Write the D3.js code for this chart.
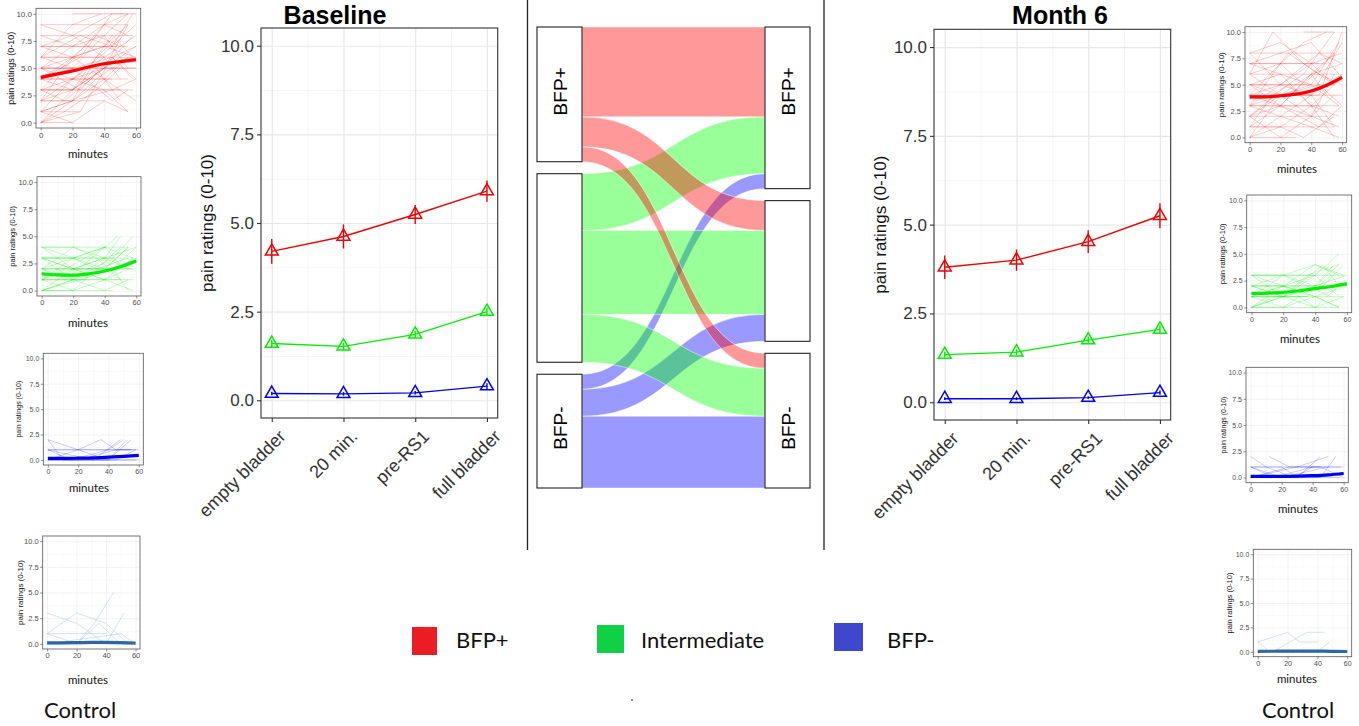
<!DOCTYPE html>
<html>
<head>
<meta charset="utf-8">
<script src="https://cdn.jsdelivr.net/npm/d3@7"></script>
<style>
body { margin: 0; background: #fff; }
svg { display: block; }
</style>
</head>
<body>
<div class="canvas"></div>
<script>
const svg = d3.select('.canvas')
            .append('svg')
            .attr('width', 1359)
            .attr('height', 726)

const arial = "'Liberation Sans', Arial, sans-serif"
const calibri = "Lato, 'Open Sans', sans-serif"

// categories and ticks
const timepoints = ['empty bladder', '20 min.', 'pre-RS1', 'full bladder']
const groups = ['BFP+', 'Intermediate', 'BFP-']
const yTicks = [0, 2.5, 5, 7.5, 10]
const yMinor = [1.25, 3.75, 6.25, 8.75]
const minuteTicks = [0, 20, 40, 60]
const minuteMinor = [10, 30, 50]
const smoothMinutes = [0, 10, 20, 30, 40, 50, 60]

// main panels: mean pain rating per time point (+/- error)
const baselineRed = [4.2, 4.62, 5.24, 5.9]
const baselineRedErr = [0.35, 0.34, 0.27, 0.3]
const baselineGreen = [1.6, 1.52, 1.86, 2.5]
const baselineGreenErr = [0.1, 0.1, 0.1, 0.12]
const baselineBlue = [0.19, 0.18, 0.21, 0.4]
const baselineBlueErr = [0.05, 0.05, 0.05, 0.08]

const month6Red = [3.8, 4.0, 4.52, 5.25]
const month6RedErr = [0.33, 0.3, 0.32, 0.35]
const month6Green = [1.34, 1.41, 1.75, 2.05]
const month6GreenErr = [0.08, 0.08, 0.1, 0.12]
const month6Blue = [0.1, 0.1, 0.13, 0.27]
const month6BlueErr = [0.04, 0.04, 0.04, 0.06]

// alluvial: group at baseline -> group at month 6
const flowFrom = ['BFP+', 'BFP+', 'BFP+', 'Intermediate', 'Intermediate', 'Intermediate', 'BFP-', 'BFP-', 'BFP-']
const flowTo = ['BFP+', 'Intermediate', 'BFP-', 'BFP+', 'Intermediate', 'BFP-', 'BFP+', 'Intermediate', 'BFP-']
const flowCount = [30, 10, 5, 19, 28, 16, 5, 9, 24]

// individual trajectories, flat [minute, rating, minute, rating, ...]
const trajBaseRed = [
  [0,9,55,9], [0,8,58,8], [0,7,55,7], [0,7,48,7], [0,6,58,6], [0,6,40,6], [0,5,60,5], [0,5,50,5],
  [0,4,55,4], [0,4,45,4], [0,3,58,3], [0,3,50,3], [0,2,40,2], [0,1,25,1], [0,0,20,0], [20,10,52,10],
  [0,0,20,3,40,5,60,7], [0,1,20,2,35,6,50,8], [0,2,15,5,40,9,55,10], [0,3,20,4,45,7,60,9],
  [0,4,25,6,45,10,60,10], [0,5,20,7,40,8,55,10], [0,6,20,9,38,10], [0,7,20,8,45,10],
  [0,2,20,2,40,4,55,6], [0,0,15,1,35,3,50,5], [0,1,20,4,40,5,58,8], [0,3,20,3,35,5,50,2],
  [0,5,20,4,40,3,55,1], [0,4,20,6,40,4,60,2], [0,6,20,5,45,6,58,4], [0,8,20,7,40,9,55,8],
  [0,5,25,3,45,6,60,7], [0,3,20,6,40,7,55,9], [0,2,20,3,45,8,58,6], [0,7,20,6,35,8,50,7],
  [0,4,20,5,45,2,55,3], [0,1,20,2,45,3,60,4], [0,0,20,2,35,4,55,6], [0,6,25,8,45,7,58,10],
  [0,3,15,2,40,5,60,5], [0,5,20,6,40,7,60,6], [0,2,20,4,40,6,50,4], [0,4,20,3,40,5,55,9],
  [0,9,20,8,40,6,60,8], [0,0,25,1,45,6,60,4], [0,1,20,0,40,2,55,1], [0,5,20,5,40,8,55,5]
]
const trajBaseGreen = [
  [0,4,40,4], [0,3,55,3], [0,3,45,3], [0,2,58,2], [0,2,40,2], [0,1,50,1], [0,1,30,1], [0,0,45,0],
  [0,4,20,3,40,2,55,4], [0,3,20,2,40,1,58,3], [0,2,20,1,40,3,50,5], [0,1,20,2,40,2,55,4],
  [0,0,20,1,45,3,58,5], [0,0,20,0,40,1,55,2], [0,2,20,3,35,2,50,4], [0,1,20,1,40,0,55,1],
  [0,3,20,3,40,4,55,4], [0,4,20,2,40,3,60,4], [0,2,15,1,40,4,48,5], [0,1,20,3,40,4,58,3],
  [0,0,20,2,40,3,55,0], [0,2,20,2,40,1,58,0], [0,3,20,1,45,2,60,3], [0,1,20,0,35,2,55,3],
  [0,0,25,1,45,2,60,4], [0,2,20,4,40,3,55,2], [0,4,20,4,35,3,50,1], [0,1,15,2,40,4,52,2],
  [0,3,20,2,40,2,60,2], [0,0,20,1,40,1,58,1]
]
const trajBaseBlue = [
  [0,2,20,1,35,2,45,1,58,1], [0,1,55,1], [0,1,20,1,40,1,50,2], [0,0,20,1,40,0,52,2],
  [0,0,40,0,55,2], [0,1,15,0,40,1,55,1], [0,0,20,0,45,1,60,1], [0,2,10,0,40,0,58,0],
  [0,0,60,0], [0,1,30,0,48,2], [0,0,20,0,45,0,58,1]
]
const trajBaseControl = [
  [0,3,20,2,40,0,55,0], [0,1,20,3,40,2,55,0], [0,1,40,1], [0,1,20,0,32,2,45,5],
  [0,0,20,0,35,2,50,0], [40,0,52,3], [0,0,50,1,60,0]
]
const trajM6Red = [
  [0,8,55,8], [0,7,50,7], [0,6,58,6], [0,5,55,5], [0,4,60,4], [0,3,58,3], [0,2,50,2], [0,1,55,1],
  [0,0,30,0], [35,10,55,10], [0,7,45,7], [0,5,40,5], [0,3,45,3],
  [0,0,20,2,40,4,60,9], [0,1,15,4,35,6,55,10], [0,2,20,3,40,6,55,8], [0,3,20,5,40,7,60,8],
  [0,4,20,7,35,9,50,10], [0,5,20,4,40,6,60,7], [0,6,15,10,35,7,55,5], [0,7,20,6,40,3,58,2],
  [0,8,20,5,40,4,55,1], [0,3,20,2,40,1,58,0], [0,2,20,4,45,5,60,3], [0,4,20,3,40,2,55,6],
  [0,5,20,6,40,5,58,9], [0,1,20,1,40,3,55,5], [0,0,20,1,35,0,55,2], [0,6,20,4,40,4,60,6],
  [0,3,25,8,45,6,60,5], [0,2,20,0,40,2,55,4], [0,4,20,5,45,8,60,7], [0,7,20,8,40,9,58,6],
  [0,1,20,3,40,6,50,4], [0,5,20,3,45,1,60,3], [0,0,20,4,40,2,58,1], [0,2,25,5,40,3,55,0],
  [0,6,20,7,35,5,55,8], [0,3,20,4,45,4,60,10], [0,4,20,4,40,5,58,3], [0,8,20,9,40,7,55,5]
]
const trajM6Green = [
  [0,3,58,3], [0,2,58,2], [0,1,58,1], [0,0,55,0], [0,3,40,3], [0,2,45,2], [0,1,35,1],
  [0,0,20,1,40,3,55,5], [0,1,20,2,40,4,58,3], [0,2,20,1,40,2,55,4], [0,3,20,2,40,1,55,0],
  [0,0,20,0,40,2,52,4], [0,1,20,0,40,1,60,2], [0,2,20,3,35,2,50,1], [0,0,20,2,40,3,55,1],
  [0,3,20,3,40,4,55,3], [0,1,20,1,45,2,58,4], [0,2,20,2,40,0,55,2], [0,0,15,1,35,1,50,3],
  [0,1,20,3,40,2,60,3], [0,0,20,1,40,0,58,1], [0,2,20,1,45,4,55,2], [0,3,20,1,35,3,55,4],
  [0,1,20,2,40,1,55,0]
]
const trajM6Blue = [
  [0,2,10,1,28,0,40,1], [12,2,25,1,45,1], [0,1,30,1,58,1], [0,1,20,1,30,0,45,2],
  [0,0,30,1,50,2], [0,0,20,0,45,0,55,2], [0,1,15,0,40,1,60,1], [0,0,40,0,58,0],
  [0,0,25,1,45,1,60,0], [0,1,20,0,50,1]
]
const trajM6Control = [
  [0,1,20,2,28,1,40,1], [0,1,8,0], [10,0,33,2,45,2], [40,0,48,1], [0,0,55,0]
]

// loess fits (rating at smoothMinutes) and half-width of the band
const smoothBaseRed = [4.15, 4.45, 4.75, 5.1, 5.4, 5.6, 5.78]
const bandBaseRed = [0.25, 0.18, 0.15, 0.15, 0.15, 0.18, 0.28]
const smoothBaseGreen = [1.55, 1.45, 1.42, 1.55, 1.8, 2.2, 2.72]
const bandBaseGreen = [0.15, 0.12, 0.1, 0.1, 0.12, 0.15, 0.22]
const smoothBaseBlue = [0.15, 0.15, 0.17, 0.2, 0.27, 0.35, 0.45]
const bandBaseBlue = [0.08, 0.06, 0.05, 0.05, 0.06, 0.08, 0.12]
const smoothBaseControl = [0.1, 0.1, 0.12, 0.14, 0.14, 0.12, 0.08]
const bandBaseControl = [0.06, 0.05, 0.04, 0.04, 0.05, 0.06, 0.08]
const smoothM6Red = [3.85, 3.85, 3.95, 4.1, 4.4, 4.95, 5.7]
const bandM6Red = [0.25, 0.18, 0.15, 0.15, 0.18, 0.22, 0.35]
const smoothM6Green = [1.3, 1.33, 1.4, 1.55, 1.75, 1.95, 2.2]
const bandM6Green = [0.14, 0.1, 0.09, 0.09, 0.1, 0.12, 0.18]
const smoothM6Blue = [0.1, 0.1, 0.1, 0.12, 0.17, 0.25, 0.38]
const bandM6Blue = [0.06, 0.05, 0.04, 0.04, 0.05, 0.07, 0.1]
const smoothM6Control = [0.05, 0.06, 0.07, 0.08, 0.07, 0.05, 0.03]
const bandM6Control = [0.05, 0.04, 0.04, 0.04, 0.04, 0.05, 0.06]

// ---------- main line charts ----------
function mainPanel(p, series) {
  const x = d3.scaleLinear().domain([0.85, 4.15]).range([p.left, p.right])
  const y = d3.scaleLinear().domain([-0.5, 10.5]).range([p.bottom, p.top])
  const w = p.right - p.left
  const h = p.bottom - p.top
  const g = svg.append('g')

  // grid
  const gridY = (vals, col, sw) => g.append('g').attr('transform', `translate(${p.left},0)`)
    .call(d3.axisLeft(y).tickValues(vals).tickSize(-w).tickFormat(''))
    .call(a => a.select('.domain').remove())
    .selectAll('line').attr('stroke', col).attr('stroke-width', sw)
  const gridX = (vals, col, sw) => g.append('g').attr('transform', `translate(0,${p.bottom})`)
    .call(d3.axisBottom(x).tickValues(vals).tickSize(-h).tickFormat(''))
    .call(a => a.select('.domain').remove())
    .selectAll('line').attr('stroke', col).attr('stroke-width', sw)
  gridY(yMinor, '#f3f3f3', 0.8)
  gridX([1.5, 2.5, 3.5], '#f3f3f3', 0.8)
  gridY(yTicks, '#e8e8e8', 1.2)
  gridX([1, 2, 3, 4], '#e8e8e8', 1.2)

  g.append('rect').attr('x', p.left).attr('y', p.top).attr('width', w).attr('height', h)
    .attr('fill', 'none').attr('stroke', '#333').attr('stroke-width', 1.1)

  series.forEach(s => {
    const pts = s.values.map((v, i) => ({ i: i + 1, v: v, e: s.err[i] }))
    g.append('path')
      .attr('d', d3.line().x(d => x(d.i)).y(d => y(d.v))(pts))
      .attr('fill', 'none').attr('stroke', s.color).attr('stroke-width', 1.4)
    g.selectAll(null).data(pts).enter().append('line')
      .attr('x1', d => x(d.i)).attr('x2', d => x(d.i))
      .attr('y1', d => y(d.v - d.e)).attr('y2', d => y(d.v + d.e))
      .attr('stroke', s.color).attr('stroke-width', 1.4)
    g.selectAll(null).data(pts).enter().append('path')
      .attr('d', d3.symbol(d3.symbolTriangle, 72)())
      .attr('transform', d => `translate(${x(d.i)},${y(d.v)})`)
      .attr('fill', 'none').attr('stroke', s.color).attr('stroke-width', 1.5)
  })

  const yAxis = g.append('g').attr('transform', `translate(${p.left},0)`)
    .call(d3.axisLeft(y).tickValues(yTicks).tickSize(4).tickPadding(3).tickFormat(d3.format('.1f')))
  yAxis.select('.domain').remove()
  yAxis.selectAll('line').attr('stroke', '#333').attr('stroke-width', 1.1)
  yAxis.selectAll('text').attr('font-family', arial).attr('font-size', 17).attr('fill', '#333')

  const xAxis = g.append('g').attr('transform', `translate(0,${p.bottom})`)
    .call(d3.axisBottom(x).tickValues([1, 2, 3, 4]).tickSize(4).tickFormat(d => timepoints[d - 1]))
  xAxis.select('.domain').remove()
  xAxis.selectAll('line').attr('stroke', '#333').attr('stroke-width', 1.1)
  xAxis.selectAll('text')
    .attr('font-family', arial).attr('font-size', 18).attr('fill', '#333')
    .attr('text-anchor', 'end')
    .attr('x', 0).attr('y', 0).attr('dy', '0.75em')
    .attr('transform', 'translate(5,10) rotate(-45)')

  g.append('text')
    .attr('transform', `translate(${p.labelX},${(p.top + p.bottom) / 2}) rotate(-90)`)
    .attr('text-anchor', 'middle')
    .attr('font-family', arial).attr('font-size', 17).attr('fill', '#111')
    .text('pain ratings (0-10)')

  g.append('text')
    .attr('x', p.titleX).attr('y', 24)
    .attr('text-anchor', 'middle')
    .attr('font-family', arial).attr('font-size', 25).attr('font-weight', 'bold')
    .text(p.title)
}

mainPanel({ left: 261, right: 497.7, top: 28, bottom: 418, labelX: 213, titleX: 335, title: 'Baseline' }, [
  { values: baselineRed, err: baselineRedErr, color: '#ee0000' },
  { values: baselineGreen, err: baselineGreenErr, color: '#00ee00' },
  { values: baselineBlue, err: baselineBlueErr, color: '#0000ee' }
])
mainPanel({ left: 934, right: 1170.7, top: 29.3, bottom: 420, labelX: 886, titleX: 1060, title: 'Month 6' }, [
  { values: month6Red, err: month6RedErr, color: '#ee0000' },
  { values: month6Green, err: month6GreenErr, color: '#00ee00' },
  { values: month6Blue, err: month6BlueErr, color: '#0000ee' }
])

// ---------- alluvial ----------
const flowColor = d3.scaleOrdinal().domain(groups).range(['#ff0000', '#00ff00', '#0000ff'])
const stageX = d3.scalePoint().domain(['Baseline', 'Month 6']).range([537, 765])
const nodeW = 45
const sankeyTop = 27, sankeyBottom = 488, nodeGap = 12
const hScale = d3.scaleLinear().domain([0, d3.sum(flowCount)])
  .range([0, sankeyBottom - sankeyTop - 2 * nodeGap])

const leftNodes = {}, rightNodes = {}
let yl = sankeyTop, yr = sankeyTop
groups.forEach(gr => {
  const lt = d3.sum(flowCount.filter((c, i) => flowFrom[i] === gr))
  const rt = d3.sum(flowCount.filter((c, i) => flowTo[i] === gr))
  leftNodes[gr] = { y0: yl, y1: yl + hScale(lt), cur: yl }
  rightNodes[gr] = { y0: yr, y1: yr + hScale(rt), cur: yr }
  yl += hScale(lt) + nodeGap
  yr += hScale(rt) + nodeGap
})
const flows = flowCount.map((c, i) => {
  const s = leftNodes[flowFrom[i]], t = rightNodes[flowTo[i]]
  const f = { from: flowFrom[i], s0: s.cur, s1: s.cur + hScale(c), t0: t.cur, t1: t.cur + hScale(c) }
  s.cur += hScale(c)
  t.cur += hScale(c)
  return f
})

function flowPath(f) {
  const x0 = stageX('Baseline') + nodeW, x1 = stageX('Month 6'), xm = (x0 + x1) / 2
  const pth = d3.path()
  pth.moveTo(x0, f.s0)
  pth.bezierCurveTo(xm, f.s0, xm, f.t0, x1, f.t0)
  pth.lineTo(x1, f.t1)
  pth.bezierCurveTo(xm, f.t1, xm, f.s1, x0, f.s1)
  pth.closePath()
  return pth.toString()
}

svg.append('g').selectAll('path')
  .data(flows.slice().reverse())
  .enter().append('path')
  .attr('d', flowPath)
  .attr('fill', d => flowColor(d.from))
  .attr('fill-opacity', 0.4)
  .attr('stroke', '#fff').attr('stroke-width', 0.6).attr('stroke-opacity', 0.8)

const nodeData = groups.map(gr => ({ stage: 'Baseline', name: gr, n: leftNodes[gr] }))
  .concat(groups.map(gr => ({ stage: 'Month 6', name: gr, n: rightNodes[gr] })))
const nodes = svg.append('g').selectAll('g').data(nodeData).enter().append('g')
nodes.append('rect')
  .attr('x', d => stageX(d.stage)).attr('y', d => d.n.y0)
  .attr('width', nodeW).attr('height', d => d.n.y1 - d.n.y0)
  .attr('fill', '#fff').attr('stroke', '#222').attr('stroke-width', 1.1)
nodes.filter(d => d.name !== 'Intermediate').append('text')
  .attr('transform', d => `translate(${stageX(d.stage) + nodeW / 2 + 7},${(leftNodes[d.name].y0 + leftNodes[d.name].y1) / 2 - 3}) rotate(-90)`)
  .attr('text-anchor', 'middle')
  .attr('font-family', arial).attr('font-size', 19)
  .text(d => d.name)

// separators
svg.append('g').selectAll('line').data([527.5, 824]).enter().append('line')
  .attr('x1', d => d).attr('x2', d => d).attr('y1', 0).attr('y2', 550)
  .attr('stroke', '#222').attr('stroke-width', 1.3)

// ---------- small spaghetti panels ----------
let clipId = 0
function smallPanel(p, trajs, smooth, band, thinColor, thickColor, thinOpacity) {
  const x = d3.scaleLinear().domain([-3, 63]).range([p.left, p.right])
  const y = d3.scaleLinear().domain([-0.5, 10.5]).range([p.bottom, p.top])
  const w = p.right - p.left
  const h = p.bottom - p.top
  const g = svg.append('g')
  const id = 'clip' + (clipId++)
  g.append('clipPath').attr('id', id).append('rect')
    .attr('x', p.left).attr('y', p.top).attr('width', w).attr('height', h)

  const gridY = (vals, col) => g.append('g').attr('transform', `translate(${p.left},0)`)
    .call(d3.axisLeft(y).tickValues(vals).tickSize(-w).tickFormat(''))
    .call(a => a.select('.domain').remove())
    .selectAll('line').attr('stroke', col).attr('stroke-width', 0.5)
  const gridX = (vals, col) => g.append('g').attr('transform', `translate(0,${p.bottom})`)
    .call(d3.axisBottom(x).tickValues(vals).tickSize(-h).tickFormat(''))
    .call(a => a.select('.domain').remove())
    .selectAll('line').attr('stroke', col).attr('stroke-width', 0.5)
  gridY(yMinor, '#f4f4f4')
  gridX(minuteMinor, '#f4f4f4')
  gridY(yTicks, '#e6e6e6')
  gridX(minuteTicks, '#e6e6e6')

  const inner = g.append('g').attr('clip-path', `url(#${id})`)
  const line = d3.line().x(d => x(d[0])).y(d => y(d[1]))
  inner.selectAll(null).data(trajs).enter().append('path')
    .attr('d', tr => line(d3.range(0, tr.length, 2).map(k => [tr[k], tr[k + 1]])))
    .attr('fill', 'none').attr('stroke', thinColor)
    .attr('stroke-opacity', thinOpacity).attr('stroke-width', 0.7)

  const pts = smoothMinutes.map((m, i) => ({ m: m, v: smooth[i], b: band[i] }))
  inner.append('path')
    .attr('d', d3.area().x(d => x(d.m)).y0(d => y(d.v - d.b)).y1(d => y(d.v + d.b)).curve(d3.curveMonotoneX)(pts))
    .attr('fill', '#999').attr('fill-opacity', 0.35)
  inner.append('path')
    .attr('d', d3.line().x(d => x(d.m)).y(d => y(d.v)).curve(d3.curveMonotoneX)(pts))
    .attr('fill', 'none').attr('stroke', thickColor).attr('stroke-width', 3.2)

  g.append('rect').attr('x', p.left).attr('y', p.top).attr('width', w).attr('height', h)
    .attr('fill', 'none').attr('stroke', '#555').attr('stroke-width', 0.8)

  const yAxis = g.append('g').attr('transform', `translate(${p.left},0)`)
    .call(d3.axisLeft(y).tickValues(yTicks).tickSize(2.5).tickPadding(1.5).tickFormat(d3.format('.1f')))
  yAxis.select('.domain').remove()
  yAxis.selectAll('line').attr('stroke', '#444').attr('stroke-width', 0.6)
  yAxis.selectAll('text').attr('font-family', arial).attr('font-size', p.tick).attr('fill', '#4d4d4d')
  const xAxis = g.append('g').attr('transform', `translate(0,${p.bottom})`)
    .call(d3.axisBottom(x).tickValues(minuteTicks).tickSize(2.5).tickPadding(1.5))
  xAxis.select('.domain').remove()
  xAxis.selectAll('line').attr('stroke', '#444').attr('stroke-width', 0.6)
  xAxis.selectAll('text').attr('font-family', arial).attr('font-size', p.tick).attr('fill', '#4d4d4d')

  g.append('text')
    .attr('transform', `translate(${p.labelX},${(p.top + p.bottom) / 2}) rotate(-90)`)
    .attr('text-anchor', 'middle')
    .attr('font-family', arial).attr('font-size', p.label).attr('fill', '#111')
    .text('pain ratings (0-10)')
  g.append('text')
    .attr('x', p.minX).attr('y', p.minY)
    .attr('text-anchor', 'middle').attr('dominant-baseline', 'middle')
    .attr('font-family', calibri).attr('font-size', 11.5).attr('fill', '#111')
    .text('minutes')
}

smallPanel({ left: 36, right: 140.7, top: 8.3, bottom: 128, labelX: 14, tick: 8, label: 9, minX: 88, minY: 155 },
  trajBaseRed, smoothBaseRed, bandBaseRed, '#ff0000', '#ff0000', 0.3)
smallPanel({ left: 37, right: 141, top: 176.7, bottom: 296, labelX: 15, tick: 7.5, label: 7.5, minX: 88, minY: 324 },
  trajBaseGreen, smoothBaseGreen, bandBaseGreen, '#00ee00', '#00ee00', 0.35)
smallPanel({ left: 43.3, right: 143.3, top: 353.3, bottom: 465, labelX: 21, tick: 7, label: 7, minX: 89, minY: 489 },
  trajBaseBlue, smoothBaseBlue, bandBaseBlue, '#0000ff', '#0000ee', 0.3)
smallPanel({ left: 42.7, right: 140, top: 536, bottom: 649, labelX: 23, tick: 7.5, label: 8, minX: 88, minY: 681 },
  trajBaseControl, smoothBaseControl, bandBaseControl, '#5b8cc0', '#2f66a3', 0.35)

smallPanel({ left: 1245, right: 1346.7, top: 26.7, bottom: 142.7, labelX: 1224, tick: 7.5, label: 8, minX: 1297, minY: 170 },
  trajM6Red, smoothM6Red, bandM6Red, '#ff0000', '#ff0000', 0.3)
smallPanel({ left: 1246.7, right: 1351.7, top: 195, bottom: 312.7, labelX: 1225, tick: 7, label: 7.5, minX: 1300, minY: 340 },
  trajM6Green, smoothM6Green, bandM6Green, '#00ee00', '#00ee00', 0.35)
smallPanel({ left: 1246, right: 1348.3, top: 367.3, bottom: 482.7, labelX: 1226, tick: 7, label: 7, minX: 1298, minY: 510 },
  trajM6Blue, smoothM6Blue, bandM6Blue, '#0000ff', '#0000ee', 0.3)
smallPanel({ left: 1253.3, right: 1351.7, top: 549.3, bottom: 656.7, labelX: 1232, tick: 7, label: 7.5, minX: 1297, minY: 680 },
  trajM6Control, smoothM6Control, bandM6Control, '#5b8cc0', '#2f66a3', 0.35)

svg.selectAll('.control').data([80, 1298]).enter().append('text')
  .attr('class', 'control')
  .attr('x', d => d).attr('y', 712)
  .attr('text-anchor', 'middle').attr('dominant-baseline', 'middle')
  .attr('font-family', calibri).attr('font-size', 22).attr('fill', '#111')
  .text('Control')

// ---------- legend ----------
const legendColors = ['#ec1c24', '#0ed145', '#3f48cc']
const legendX = [412, 597, 834]
const legendTextX = [456, 641, 887]
const legend = svg.selectAll('.legend').data(groups).enter().append('g')
  .attr('class', 'legend')
  .attr('transform', (d, i) => `translate(${legendX[i]},${627 - i * 2})`)
legend.append('rect')
  .attr('width', (d, i) => 25 + i * 2).attr('height', 28)
  .attr('fill', (d, i) => legendColors[i])
legend.append('text')
  .attr('x', (d, i) => legendTextX[i] - legendX[i]).attr('y', (d, i) => 15 + i * 2)
  .attr('dominant-baseline', 'middle')
  .attr('font-family', calibri).attr('font-size', 22).attr('fill', '#111')
  .text(d => d)

svg.append('circle').attr('cx', 632).attr('cy', 700).attr('r', 0.9).attr('fill', '#3f48cc')
</script>
</body>
</html>
